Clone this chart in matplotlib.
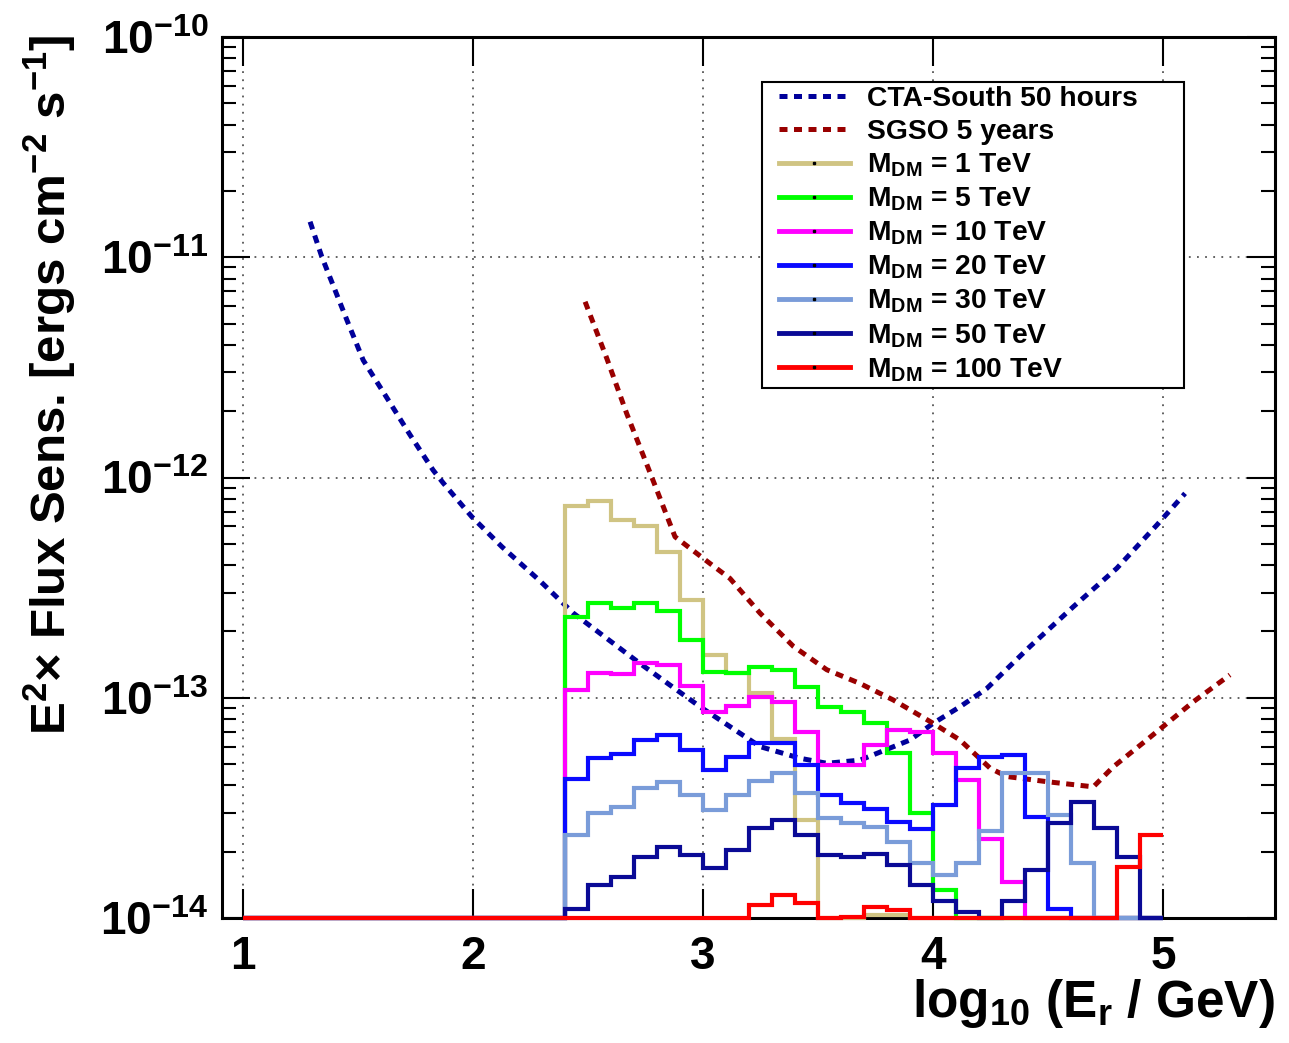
import numpy as np
import matplotlib
matplotlib.use("Agg")
from matplotlib import pyplot as plt
from matplotlib.lines import Line2D
from matplotlib.legend_handler import HandlerLine2D

plt.rcParams['font.family'] = ['Liberation Sans', 'DejaVu Sans']
plt.rcParams['font.weight'] = 'bold'
plt.rcParams['mathtext.fontset'] = 'custom'
plt.rcParams['mathtext.rm'] = 'Liberation Sans:bold'
plt.rcParams['mathtext.it'] = 'Liberation Sans:bold'
plt.rcParams['mathtext.bf'] = 'Liberation Sans:bold'

# bin edges of the histograms, log10(E / GeV)
edges = np.round(np.arange(1.0, 5.01, 0.1), 2)
empty = [0.0] * 14   # bins 1.0 - 2.4 are empty

# sensitivity per bin, bins 2.4 ... 4.9
m1 = [7.4e-13, 7.8e-13, 6.4e-13, 6.0e-13, 4.6e-13, 2.78e-13, 1.56e-13, 1.3e-13,
      1.05e-13, 6.5e-14, 2.8e-14, 0, 0, 1.03e-14, 1.03e-14,
      0, 0, 0, 0, 0, 0, 0, 0, 0, 0, 0]
m5 = [2.33e-13, 2.7e-13, 2.55e-13, 2.7e-13, 2.48e-13, 1.83e-13, 1.31e-13, 1.3e-13,
      1.38e-13, 1.34e-13, 1.12e-13, 9.1e-14, 8.65e-14, 7.65e-14, 5.6e-14, 2.99e-14,
      1.34e-14, 0, 0, 0, 0, 0, 0, 0, 0, 0]
m10 = [1.08e-13, 1.29e-13, 1.28e-13, 1.44e-13, 1.41e-13, 1.13e-13, 8.65e-14, 9.2e-14,
       1.01e-13, 9.6e-14, 7.0e-14, 4.95e-14, 4.95e-14, 6.1e-14, 7.14e-14, 7.0e-14,
       5.6e-14, 4.23e-14, 2.28e-14, 1.46e-14, 0, 0, 0, 0, 0, 0]
m20 = [4.28e-14, 5.3e-14, 5.55e-14, 6.43e-14, 6.77e-14, 5.8e-14, 4.7e-14, 5.37e-14,
       6.25e-14, 6.2e-14, 4.95e-14, 3.62e-14, 3.32e-14, 3.11e-14, 2.74e-14, 2.53e-14,
       3.26e-14, 4.78e-14, 5.4e-14, 5.5e-14, 2.88e-14, 1.1e-14, 0, 0, 0, 0]
m30 = [2.38e-14, 2.99e-14, 3.18e-14, 3.88e-14, 4.16e-14, 3.62e-14, 3.09e-14, 3.62e-14,
       4.2e-14, 4.54e-14, 3.71e-14, 2.83e-14, 2.69e-14, 2.6e-14, 2.22e-14, 1.77e-14,
       1.57e-14, 1.77e-14, 2.48e-14, 4.54e-14, 4.54e-14, 2.94e-14, 1.77e-14, 0, 0, 0]
m50 = [1.1e-14, 1.41e-14, 1.54e-14, 1.9e-14, 2.11e-14, 1.93e-14, 1.68e-14, 2.04e-14,
       2.55e-14, 2.79e-14, 2.38e-14, 1.93e-14, 1.9e-14, 1.96e-14, 1.74e-14, 1.41e-14,
       1.19e-14, 1.07e-14, 0, 1.19e-14, 1.65e-14, 2.69e-14, 3.37e-14, 2.55e-14, 1.9e-14, 0]
m100 = [0, 0, 0, 0, 0, 0, 0, 0, 1.15e-14, 1.27e-14, 1.17e-14, 0, 1.01e-14, 1.12e-14,
        1.09e-14, 0, 0, 0, 0, 0, 0, 0, 0, 0, 1.71e-14, 2.38e-14]

masses = ['1', '5', '10', '20', '30', '50', '100']
hists = [m1, m5, m10, m20, m30, m50, m100]
colors = ['#d0c483', '#00ff00', '#ff00ff', '#0a0aff', '#7a9cd9', '#0a0a96', '#ff0000']

# CTA-South 50 h curve
cta_x = [1.291, 1.342, 1.451, 1.522, 1.625, 1.726, 1.826, 1.870, 1.994, 2.125, 2.291,
         2.436, 2.726, 2.987, 3.248, 3.422, 3.538, 3.683, 3.900, 4.001, 4.117, 4.233,
         4.422, 4.610, 4.799, 4.973, 5.096]
cta_y = [1.45e-11, 1.005e-11, 5.19e-12, 3.41e-12, 2.30e-12, 1.56e-12, 1.08e-12, 9.44e-13,
         6.64e-13, 4.85e-13, 3.39e-13, 2.42e-13, 1.43e-13, 9.1e-14, 6.0e-14, 5.31e-14,
         5.04e-14, 5.21e-14, 6.43e-14, 7.66e-14, 9.1e-14, 1.10e-13, 1.71e-13, 2.59e-13,
         3.87e-13, 6.08e-13, 8.47e-13]

# SGSO 5 years curve
sgso_x = [2.487, 2.581, 2.668, 2.762, 2.878, 3.030, 3.117, 3.248, 3.393, 3.538, 3.683,
          3.827, 4.000, 4.117, 4.248, 4.320, 4.494, 4.697, 4.784, 4.929, 5.132, 5.291]
sgso_y = [6.28e-12, 3.48e-12, 1.95e-12, 1.10e-12, 5.38e-13, 4.07e-13, 3.48e-13, 2.42e-13,
          1.71e-13, 1.34e-13, 1.16e-13, 9.77e-14, 7.66e-14, 6.43e-14, 4.79e-14, 4.39e-14,
          4.16e-14, 3.94e-14, 4.86e-14, 6.43e-14, 9.59e-14, 1.27e-13]

ymin, ymax = 1e-14, 1e-10

fig = plt.figure(figsize=(12.89, 10.43), dpi=100)
ax = fig.add_axes([222/1289, 1-918/1043, (1275-222)/1289, (918-37)/1043])
ax.set_yscale('log')
ax.set_xlim(0.908, 5.487)
ax.set_ylim(ymin, ymax)

dots = (0, (1.6, 1.3))
ax.plot(cta_x, cta_y, color='#00009a', lw=3.6, linestyle=dots, zorder=4)
ax.plot(sgso_x, sgso_y, color='#990000', lw=3.6, linestyle=dots, zorder=4)

for vals, c in zip(hists, colors):
    v = np.array(empty + vals)
    v = np.where(v > ymin, v, ymin)
    ax.stairs(v, edges, color=c, lw=3, baseline=None, clip_on=False, zorder=5)

ax.grid(True, which='major', color='#555555', linestyle=(0, (1, 3.5)), lw=1.3)
ax.set_xticks([1, 2, 3, 4, 5])
ax.set_xticklabels(['1', '2', '3', '4', '5'])
ax.set_yticks([1e-14, 1e-13, 1e-12, 1e-11, 1e-10])
ax.set_yticklabels(['$10^{-14}$', '$10^{-13}$', '$10^{-12}$', '$10^{-11}$', '$10^{-10}$'])
ax.tick_params(axis='both', which='major', direction='in', top=True, right=True,
               width=1.5, labelsize=33)
ax.tick_params(axis='y', which='major', length=20, pad=10)
ax.tick_params(axis='x', which='major', length=21, pad=12)
ax.tick_params(axis='y', which='minor', direction='in', right=True, length=10, width=1.5)
ax.tick_params(axis='x', which='minor', bottom=False, top=False)
for s in ax.spines.values():
    s.set_linewidth(2.2)

fig.text(50/1289, 1-35/1043, r'E$^{2}$$\times$ Flux Sens. [ergs cm$^{-2}$ s$^{-1}$]',
         rotation=90, ha='center', va='top', fontsize=35.5, fontweight='bold')
fig.text(1275/1289, 1-1017/1043, r'log$_{10}$ (E$_{r}$ / GeV)',
         ha='right', va='baseline', fontsize=37, fontweight='bold')

handles = [Line2D([], [], color='#00009a', lw=3.6, linestyle=dots),
           Line2D([], [], color='#990000', lw=3.6, linestyle=dots)]
labels = ['CTA-South 50 hours', 'SGSO 5 years']
for m, c in zip(masses, colors):
    handles.append(Line2D([], [], color=c, lw=3.5, marker='s', ms=1.5, mfc='k', mec='k'))
    labels.append(r'M$_{\rm DM}$ = ' + m + ' TeV')
leg = ax.legend(handles, labels, loc='upper left',
                bbox_to_anchor=(0.513, 0.607, 0.4006, 0.342), mode='expand',
                fontsize=20.3, frameon=True, fancybox=False, framealpha=1,
                edgecolor='black', borderaxespad=0, borderpad=0.15,
                handlelength=2.98, handletextpad=0.57, labelspacing=0.235,
                handler_map={Line2D: HandlerLine2D(xpad=0.43)})
leg.get_frame().set_linewidth(1.5)
leg.set_zorder(10)

fig.savefig('out.png', dpi=100)
